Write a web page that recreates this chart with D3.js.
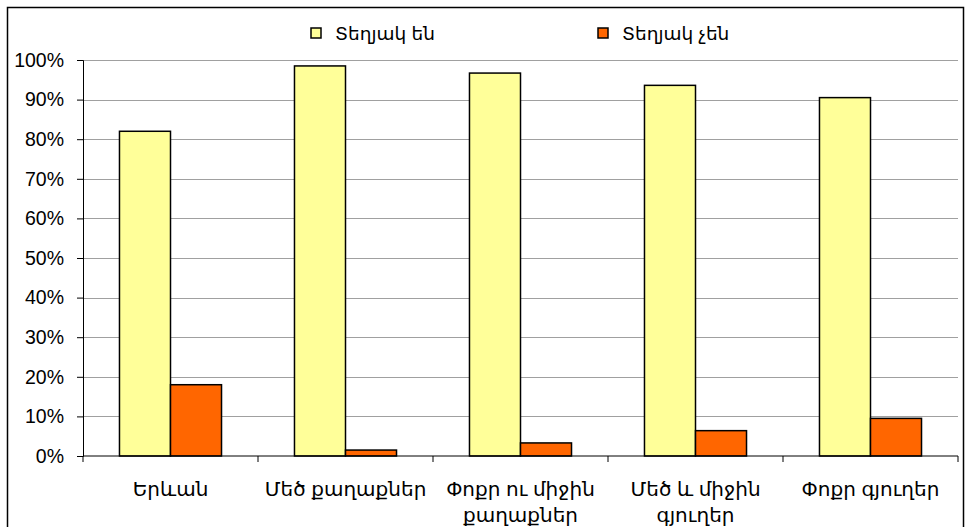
<!DOCTYPE html>
<html>
<head>
<meta charset="utf-8">
<script src="https://cdn.jsdelivr.net/npm/d3@7"></script>
<style>
  body { margin: 0; background: #fff; }
  text { font-family: "Liberation Sans", Arial, "Noto Sans", "DejaVu Sans", sans-serif; fill: #000; }
</style>
</head>
<body>
<svg id="chart" width="966" height="527"></svg>
<script>
var categories = ["Երևան", "Մեծ քաղաքներ", "Փոքր ու միջին\nքաղաքներ", "Մեծ և միջին\nգյուղեր", "Փոքր գյուղեր"];
var seriesNames = ["Տեղյակ են", "Տեղյակ չեն"];
var aware = [82, 98.5, 96.7, 93.6, 90.5];
var notAware = [18, 1.5, 3.3, 6.4, 9.5];
var yTicks = [0, 10, 20, 30, 40, 50, 60, 70, 80, 90, 100];
var colors = ["#ffff99", "#ff6600"];

var svg = d3.select("#chart"),
    margin = {top: 60, right: 8, bottom: 71, left: 83},
    width = +svg.attr("width") - margin.left - margin.right,
    height = +svg.attr("height") - margin.top - margin.bottom;

// outer chart border
svg.append("rect")
    .attr("x", 7.5).attr("y", 7.5)
    .attr("width", 956).attr("height", 530)
    .attr("fill", "none")
    .attr("stroke", "#000")
    .attr("stroke-width", 1.5);

var data = categories.map(function(c, i) {
  return {cat: c, values: [aware[i], notAware[i]]};
});

var x0 = d3.scaleBand().domain(categories).range([0, width]).padding(0);
var x1 = d3.scaleBand().domain([0, 1]).range([0, x0.bandwidth()]).paddingInner(0).paddingOuter(0.715);
var y = d3.scaleLinear().domain([0, 100]).range([height, 0]);

var g = svg.append("g")
    .attr("transform", "translate(" + margin.left + "," + margin.top + ")");

// gridlines
g.selectAll(".grid")
  .data(yTicks.filter(function(t) { return t > 0; }))
  .enter().append("line")
    .attr("x1", 0).attr("x2", width)
    .attr("y1", function(d) { return Math.round(y(d)) + 0.5; })
    .attr("y2", function(d) { return Math.round(y(d)) + 0.5; })
    .attr("stroke", "#a0a0a0")
    .attr("stroke-width", 1);

// bars
var groups = g.selectAll(".group")
  .data(data)
  .enter().append("g")
    .attr("transform", function(d) { return "translate(" + x0(d.cat) + ",0)"; });

groups.selectAll("rect")
  .data(function(d) { return d.values.map(function(v, i) { return {i: i, v: v}; }); })
  .enter().append("rect")
    .attr("x", function(d) { return x1(d.i); })
    .attr("y", function(d) { return y(d.v); })
    .attr("width", x1.bandwidth())
    .attr("height", function(d) { return height - y(d.v); })
    .attr("fill", function(d) { return colors[d.i]; })
    .attr("stroke", "#000")
    .attr("stroke-width", 1.5);

// y axis
var yAxis = g.append("g")
    .call(d3.axisLeft(y).tickValues(yTicks).tickSize(6).tickPadding(13)
      .tickFormat(function(d) { return d + "%"; }));
yAxis.selectAll("text").style("font-size", "19.5px");
yAxis.selectAll("line, path").attr("stroke", "#000");

// x axis
var xAxis = g.append("g")
    .attr("transform", "translate(0," + height + ")");
xAxis.append("line")
    .attr("x1", 0).attr("x2", width)
    .attr("y1", 0).attr("y2", 0)
    .attr("stroke", "#000");
xAxis.selectAll(".tick")
  .data(categories.concat(["end"]))
  .enter().append("line")
    .attr("x1", function(d, i) { return i < categories.length ? x0(d) : width; })
    .attr("x2", function(d, i) { return i < categories.length ? x0(d) : width; })
    .attr("y1", 0).attr("y2", 6)
    .attr("stroke", "#000");

var labels = xAxis.selectAll(".lab")
  .data(categories)
  .enter().append("text")
    .attr("text-anchor", "middle")
    .attr("x", function(d) { return x0(d) + x0.bandwidth() / 2; })
    .attr("y", 40)
    .style("font-size", "20px");

labels.selectAll("tspan")
  .data(function(d) { return d.split("\n"); })
  .enter().append("tspan")
    .attr("x", function() { return d3.select(this.parentNode).attr("x"); })
    .attr("dy", function(d, i) { return i === 0 ? 0 : 26; })
    .text(function(d) { return d; });

// legend
var legendX = [311, 598];
var legend = svg.selectAll(".legend")
  .data(seriesNames)
  .enter().append("g")
    .attr("transform", function(d, i) { return "translate(" + legendX[i] + ",28)"; });

legend.append("rect")
    .attr("width", 10).attr("height", 10)
    .attr("fill", function(d, i) { return colors[i]; })
    .attr("stroke", "#000")
    .attr("stroke-width", 1.5);

legend.append("text")
    .attr("x", 24)
    .attr("y", 12)
    .style("font-size", "18.5px")
    .text(function(d) { return d; });
</script>
</body>
</html>
